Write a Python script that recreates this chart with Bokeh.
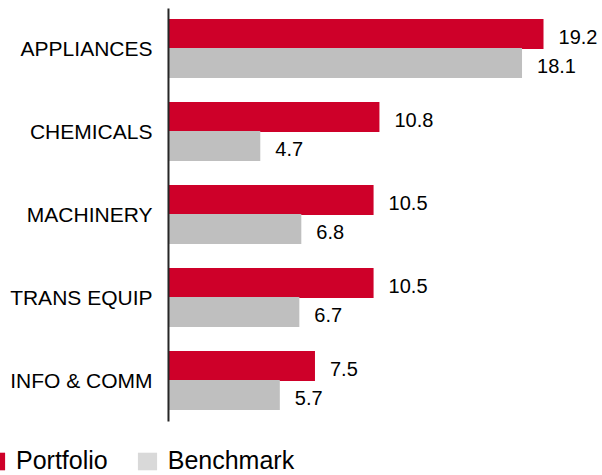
import numpy as np
from bokeh.plotting import figure
from bokeh.models import ColumnDataSource, Range1d, Legend, LegendItem
from bokeh.core.properties import value
from bokeh.embed import file_html
from bokeh.resources import INLINE

categories = ["APPLIANCES", "CHEMICALS", "MACHINERY", "TRANS EQUIP", "INFO & COMM"]
portfolio = [19.2, 10.8, 10.5, 10.5, 7.5]
benchmark = [18.1, 4.7, 6.8, 6.7, 5.7]
series_names = ["Portfolio", "Benchmark"]

RED = "#CE0029"
GREY = "#BFBFBF"
GREY_LEGEND = "#D9D9D9"
FONT = "Liberation Sans"

ypos = -np.arange(len(categories), dtype=float)
off = 0.175
h = 0.36

src_p = ColumnDataSource(dict(y=ypos + off, v=portfolio, t=[f"{v:.1f}" for v in portfolio]))
src_b = ColumnDataSource(dict(y=ypos - off, v=benchmark, t=[f"{v:.1f}" for v in benchmark]))
src_c = ColumnDataSource(dict(y=ypos, x=np.zeros(len(categories)), t=categories))

p = figure(width=602, height=475, output_backend="svg", toolbar_location=None,
           x_range=Range1d(-8.60, 22.22), y_range=Range1d(-5.145, 0.578),
           min_border=0, min_border_left=0, min_border_right=0,
           min_border_top=0, min_border_bottom=0)
p.axis.visible = False
p.grid.visible = False
p.outline_line_color = None
p.background_fill_color = "white"
p.border_fill_color = "white"

p.hbar(y="y", right="v", left=0, height=h, source=src_p, fill_color=RED, line_color=None)
p.hbar(y="y", right="v", left=0, height=h, source=src_b, fill_color=GREY, line_color=None)

# axis line
p.segment(x0=[0], y0=[0.482], x1=[0], y1=[-4.494], line_color="#262626", line_width=2)

# category labels
p.text(x="x", y="y", text="t", source=src_c, text_align="right", text_baseline="middle",
       x_offset=-16, text_font=value(FONT), text_font_size="21px", text_color="#000000")

# value labels
for s in (src_p, src_b):
    p.text(x="v", y="y", text="t", source=s, text_align="left", text_baseline="middle",
           x_offset=15, y_offset=3, text_font=value(FONT), text_font_size="20px",
           text_color="#000000")

# legend swatches (zero-width bars, used only for the legend glyphs)
lg_p = p.hbar(y=[0], right=[0], left=0, height=h, fill_color=RED, line_color=None)
lg_b = p.hbar(y=[0], right=[0], left=0, height=h, fill_color=GREY_LEGEND, line_color=None)
legend = Legend(items=[LegendItem(label=series_names[0], renderers=[lg_p]),
                       LegendItem(label=series_names[1], renderers=[lg_b])],
                orientation="horizontal", location=(-17, 0),
                glyph_width=24, glyph_height=22, label_standoff=9, spacing=27,
                padding=0, margin=0, border_line_color=None, background_fill_alpha=0,
                label_text_font=FONT, label_text_font_size="25px", label_text_color="#000000")
p.add_layout(legend)

open("out.html", "w").write(file_html(p, INLINE))
